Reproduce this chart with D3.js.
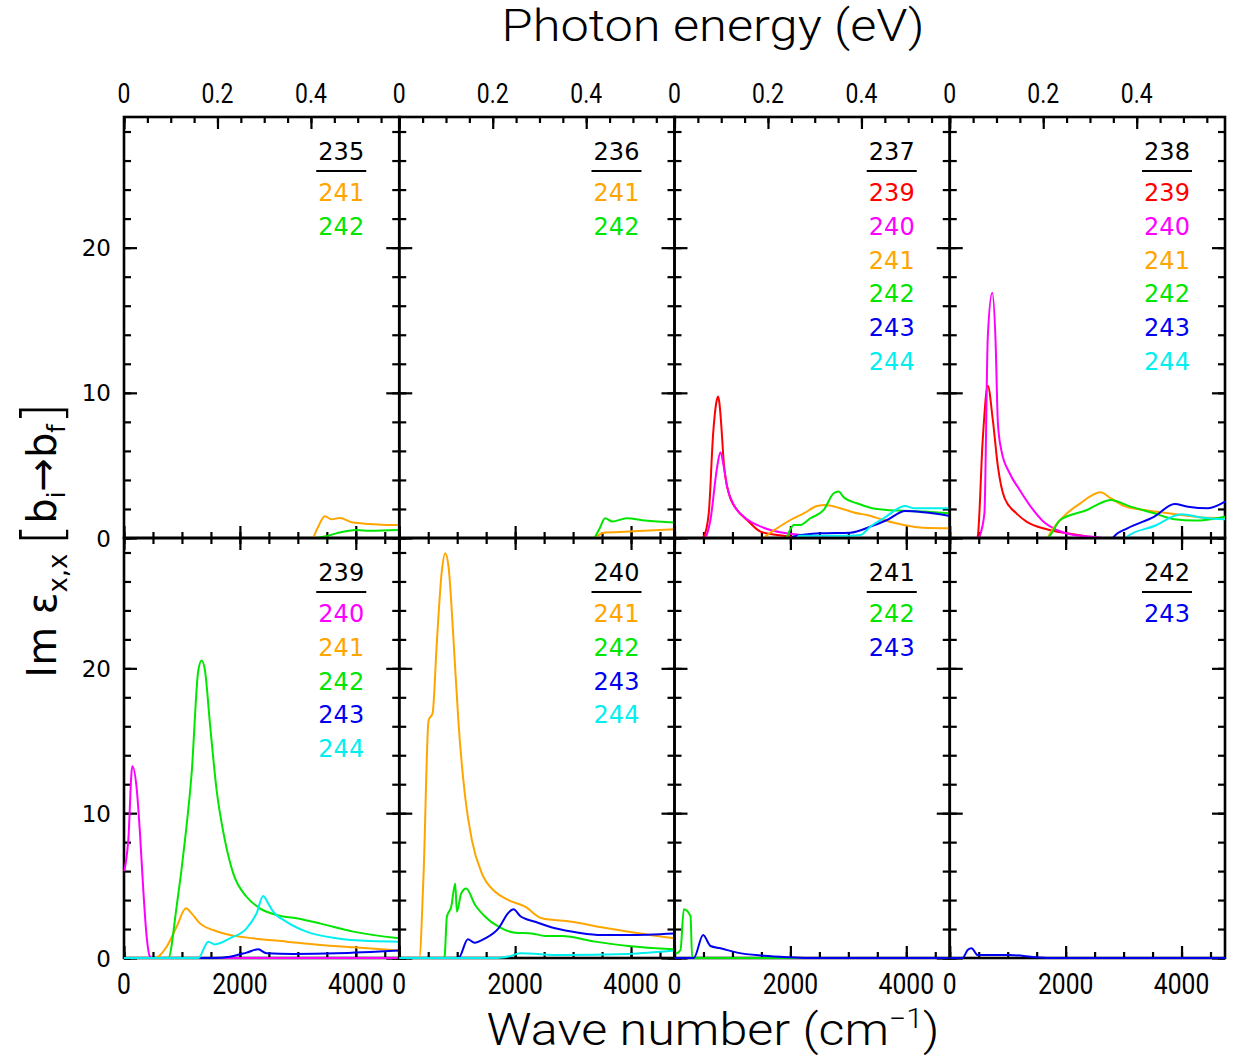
<!DOCTYPE html>
<html><head><meta charset="utf-8">
<script src="https://cdn.jsdelivr.net/npm/d3@7"></script>
<style>body{margin:0;background:#fff} svg{display:block}</style>
</head><body>
<svg id="c" width="1233" height="1057"></svg>
<script>
// ---------- DATA ----------
const initialBands = [235, 236, 237, 238, 239, 240, 241, 242];
const finalBands = [[241,242],[241,242],[239,240,241,242,243,244],[239,240,241,242,243,244],[240,241,242,243,244],[241,242,243,244],[242,243],[243]];
const wnTickLabels = [0, 2000, 4000];
const evTickLabels = [0, 0.2, 0.4];
const yTickLabels = [0, 10, 20];

// [wave number (cm^-1), Im eps]
const s235_241 = [[0,0],[3250,0],[3330,0.6],[3466,1.5],[3580,1.29],[3724,1.38],[3950,1.06],[4241,0.97],[4530,0.9],[4750,0.9]];
const s235_242 = [[0,0],[3300,0],[3466,0.1],[3667,0.32],[4011,0.55],[4241,0.5],[4750,0.55]];
const s236_241 = [[0,0],[3350,0],[3523,0.37],[3954,0.44],[4750,0.6]];
const s236_242 = [[0,0],[3350,0],[3450,0.6],[3552,1.36],[3678,1.13],[3925,1.36],[4241,1.2],[4750,1.06]];
const s237_239 = [[0,0],[480,0],[505,0.09],[591,1.7],[667,7.2],[720,9.3],[753,9.75],[775,9.3],[805,7.9],[851,5.15],[937,3.08],[1081,1.93],[1253,1.24],[1483,0.44],[1770,0.2],[2000,0.1],[2300,0],[4750,0]];
const s237_240 = [[0,0],[520,0],[534,0.05],[620,1.24],[736,4.9],[793,5.9],[851,4.9],[908,3.54],[1023,2.28],[1195,1.47],[1425,0.9],[1655,0.55],[1943,0.32],[2230,0.2],[2500,0.1],[2800,0],[4750,0]];
const s237_241 = [[0,0],[1540,0],[1569,0.1],[1770,0.67],[2000,1.24],[2230,1.7],[2460,2.2],[2603,2.28],[2862,2.05],[3149,1.7],[3322,1.59],[3609,1.24],[3954,0.9],[4299,0.71],[4750,0.67]];
const s237_242 = [[0,0],[1930,0],[1943,0.1],[2000,0.6],[2057,0.9],[2172,0.9],[2345,1.36],[2575,1.93],[2747,3.08],[2833,3.2],[2920,2.8],[3149,2.39],[3379,2.09],[3667,1.93],[3954,1.88],[4299,1.82],[4750,1.7]];
const s237_243 = [[0,0],[2000,0],[2057,0.1],[2517,0.32],[3034,0.37],[3379,0.78],[3667,1.24],[3983,1.86],[4299,1.77],[4750,1.52]];
const s237_244 = [[0,0],[2100,0],[2150,0.15],[3000,0.15],[3207,0.2],[3379,0.78],[3609,1.36],[3983,2.2],[4126,2.05],[4750,2.05]];
const s238_239 = [[0,0],[470,0],[483,0.1],[569,6.76],[657,10.48],[743,8.14],[831,4.92],[947,2.74],[1150,1.7],[1324,1.13],[1672,0.6],[2021,0.32],[2370,0.1],[2600,0],[4750,0]];
const s238_240 = [[0,0],[500,0],[512,0.1],[598,1.7],[657,13.9],[733,16.9],[790,13.65],[831,7.9],[889,6.07],[1034,4.46],[1207,3.31],[1440,1.93],[1614,1.13],[1847,0.55],[2138,0.2],[2430,0.1],[2700,0],[4750,0]];
const s238_241 = [[0,0],[1690,0],[1702,0.1],[1962,1.47],[2253,2.39],[2602,3.15],[2776,2.74],[3009,2.2],[3355,1.93],[3647,1.77],[3995,1.59],[4343,1.42],[4750,1.38]];
const s238_242 = [[0,0],[1672,0],[1905,1.24],[2369,1.93],[2659,2.5],[2776,2.62],[3124,2.16],[3531,1.7],[3879,1.29],[4227,1.2],[4750,1.47]];
const s238_243 = [[0,0],[2820,0],[2834,0.1],[3066,0.67],[3531,1.47],[3879,2.34],[4110,2.16],[4458,2.05],[4750,2.5]];
const s238_244 = [[0,0],[3050,0],[3066,0.1],[3531,0.83],[3995,1.63],[4343,1.42],[4750,1.29]];
const s239_240 = [[5,6.0],[74,8.14],[143,13.24],[219,11.7],[276,8.6],[333,4.69],[391,1.47],[448,0.09],[500,0],[4750,0]];
const s239_241 = [[0,0],[534,0],[736,0.78],[908,2.16],[1069,3.43],[1167,3.08],[1310,2.39],[1540,1.93],[1828,1.59],[2230,1.36],[2805,1.13],[3379,0.9],[3954,0.74],[4750,0.51]];
const s239_242 = [[0,0],[764,0],[908,3.54],[1052,8.14],[1167,12.74],[1282,19.86],[1339,20.55],[1397,19.86],[1483,16.2],[1598,11.6],[1741,8.14],[1885,5.84],[2115,4.23],[2345,3.43],[2632,2.97],[2977,2.74],[3379,2.39],[3954,1.82],[4750,1.36]];
const s239_243 = [[0,0],[1540,0],[1828,0.09],[2115,0.37],[2316,0.6],[2460,0.32],[2920,0.28],[3667,0.32],[4750,0.51]];
const s239_244 = [[0,0],[1282,0],[1454,1.13],[1569,0.94],[1828,1.36],[2115,2.05],[2287,3.08],[2402,4.28],[2488,3.77],[2575,3.2],[2805,2.5],[3149,1.82],[3667,1.36],[4241,1.17],[4750,1.13]];
const s240_241 = [[0,0],[345,0],[420,5.84],[506,16.4],[575,16.9],[650,21.9],[736,26.76],[793,27.95],[851,27],[937,21.93],[1023,16.2],[1138,11.1],[1253,8.14],[1425,5.84],[1655,4.57],[1885,4.0],[2172,3.54],[2460,2.74],[2977,2.5],[3494,2.12],[4069,1.75],[4750,1.36]];
const s240_242 = [[0,0],[770,0],[782,0.09],[822,2.85],[897,3.54],[966,5.15],[994,3.2],[1069,4.46],[1155,4.8],[1310,3.66],[1483,2.85],[1713,2.16],[2000,1.75],[2287,1.7],[2517,1.52],[2805,1.52],[3379,1.13],[3954,0.83],[4750,0.6]];
const s240_243 = [[0,0],[1023,0],[1184,1.29],[1299,1.06],[1483,1.36],[1713,2.05],[1885,3.13],[1971,3.36],[2086,2.9],[2345,2.5],[2690,2.05],[3092,1.75],[3494,1.59],[3954,1.59],[4750,1.7]];
const s240_244 = [[0,0],[1700,0],[1885,0.1],[2086,0.32],[2805,0.2],[3954,0.28],[4750,0.51]];
const s241_242 = [[20,0.3],[34,0.32],[103,0.55],[161,3.36],[276,2.9],[305,0],[4750,0]];
const s241_243 = [[0,0],[333,0],[494,1.59],[621,0.83],[793,0.67],[1081,0.37],[1540,0.16],[2000,0.05],[2300,0],[4750,0]];
const s242_243 = [[0,0],[220,0],[309,0.55],[377,0.67],[483,0.2],[1034,0.2],[1500,0.05],[1800,0],[4750,0]];

const seriesTable = {
  235: {241: s235_241, 242: s235_242},
  236: {241: s236_241, 242: s236_242},
  237: {239: s237_239, 240: s237_240, 241: s237_241, 242: s237_242, 243: s237_243, 244: s237_244},
  238: {239: s238_239, 240: s238_240, 241: s238_241, 242: s238_242, 243: s238_243, 244: s238_244},
  239: {240: s239_240, 241: s239_241, 242: s239_242, 243: s239_243, 244: s239_244},
  240: {241: s240_241, 242: s240_242, 243: s240_243, 244: s240_244},
  241: {242: s241_242, 243: s241_243},
  242: {243: s242_243}
};

// ---------- STYLE / LAYOUT ----------
const bandColor = {239:"#ff0000", 240:"#ff00ff", 241:"#ffa500", 242:"#00e600", 243:"#0000f0", 244:"#00f0f0"};
const L = 124, R = 1225, T = 117, M = 538, B = 958;
const pw = (R - L) / 4;
const rows = [[T, M], [M, B]];
const wnMax = 4750, yMax = 29, cmPerEV = 8065.54;
const numFont = "Roboto, 'Liberation Sans', sans-serif";
const geoFont = "'DejaVu Sans', Lato, sans-serif";

const svg = d3.select("#c");

function tickAxis(g, axisFn, scale, values, size) {
  g.call(axisFn(scale).tickValues(values).tickSize(size).tickSizeOuter(0).tickFormat(""));
  g.select(".domain").remove();
  g.selectAll(".tick line").attr("stroke", "#000").attr("stroke-width", 2.2);
}
function narrowText(g, x, y, txt, size, anchor, sx) {
  return g.append("text").attr("transform", `translate(${x},${y}) scale(${sx},1)`)
    .attr("text-anchor", anchor).attr("font-family", numFont).attr("font-size", size)
    .attr("fill", "#000").text(txt);
}

const line = d3.line().curve(d3.curveMonotoneX);

initialBands.forEach((band, i) => {
  const col = i % 4, row = Math.floor(i / 4);
  const x0 = L + col * pw, x1 = x0 + pw;
  const [yt, yb] = rows[row];
  const x = d3.scaleLinear().domain([0, wnMax]).range([x0, x1]);
  const y = d3.scaleLinear().domain([0, yMax]).range([yb, yt]);
  const g = svg.append("g");

  // frame
  g.append("rect").attr("x", x0).attr("y", yt).attr("width", pw).attr("height", yb - yt)
    .attr("fill", "none").attr("stroke", "#000").attr("stroke-width", 2.6);

  // ticks
  const wnMinor = d3.range(0, wnMax + 1, 500), wnMajor = [0, 2000, 4000];
  const yMinor = d3.range(0, yMax, 2), yMajor = [0, 10, 20];
  tickAxis(g.append("g").attr("transform", `translate(0,${yb})`), d3.axisTop, x, wnMinor, 6);
  tickAxis(g.append("g").attr("transform", `translate(0,${yb})`), d3.axisTop, x, wnMajor, 12);
  tickAxis(g.append("g").attr("transform", `translate(${x0},0)`), d3.axisRight, y, yMinor, 7);
  tickAxis(g.append("g").attr("transform", `translate(${x0},0)`), d3.axisRight, y, yMajor, 13);
  tickAxis(g.append("g").attr("transform", `translate(${x1},0)`), d3.axisLeft, y, yMinor, 7);
  tickAxis(g.append("g").attr("transform", `translate(${x1},0)`), d3.axisLeft, y, yMajor, 13);
  if (row === 0) {
    const ev = d3.scaleLinear().domain([0, wnMax / cmPerEV]).range([x0, x1]);
    tickAxis(g.append("g").attr("transform", `translate(0,${yt})`), d3.axisBottom, ev, d3.range(0, 0.5901, 0.05), 6);
    tickAxis(g.append("g").attr("transform", `translate(0,${yt})`), d3.axisBottom, ev, [0, 0.2, 0.4], 12);
    evTickLabels.forEach(v => narrowText(svg, ev(v), 103, v === 0 ? "0" : v.toFixed(1), 27, "middle", 0.85));
  } else {
    tickAxis(g.append("g").attr("transform", `translate(0,${yt})`), d3.axisBottom, x, wnMinor, 6);
    tickAxis(g.append("g").attr("transform", `translate(0,${yt})`), d3.axisBottom, x, wnMajor, 12);
    wnTickLabels.forEach(v => narrowText(svg, x(v), 994, String(v), 29, "middle", 0.85));
  }
  if (col === 0) {
    yTickLabels.forEach(v => svg.append("text").attr("x", 111).attr("y", y(v) + 8.5)
      .attr("text-anchor", "end").attr("font-family", geoFont).attr("font-size", 23).text(String(v)));
  }

  // series
  const finals = finalBands[i];
  finals.forEach(fb => {
    const data = seriesTable[band][fb];
    g.append("path").datum(data)
      .attr("d", line.x(d => x(d[0])).y(d => y(d[1])))
      .attr("fill", "none").attr("stroke", bandColor[fb]).attr("stroke-width", 2)
      .attr("stroke-linejoin", "round");
  });

  // legend
  const lx = x1 - 58;
  g.append("text").attr("x", lx).attr("y", yt + 43).attr("text-anchor", "middle")
    .attr("font-family", geoFont).attr("font-size", 24).attr("fill", "#000").text(band);
  g.append("line").attr("x1", lx - 25).attr("x2", lx + 25).attr("y1", yt + 54).attr("y2", yt + 54)
    .attr("stroke", "#000").attr("stroke-width", 2);
  finals.forEach((fb, k) => {
    g.append("text").attr("x", lx).attr("y", yt + 84 + 33.8 * k).attr("text-anchor", "middle")
      .attr("font-family", geoFont).attr("font-size", 24).attr("fill", bandColor[fb]).text(fb);
  });
});

// titles
function fitWidth(sel, target, cx) {
  const w = sel.node().getComputedTextLength();
  const s = target / w;
  sel.attr("transform", `translate(${cx},0) scale(${s},1) translate(${-cx},0)`);
}
const topTitle = svg.append("text").attr("x", 713).attr("y", 41).attr("text-anchor", "middle")
  .attr("font-family", numFont).attr("font-weight", 300).attr("font-size", 45).text("Photon energy (eV)");
fitWidth(topTitle, 423, 713);

const botTitle = svg.append("text").attr("x", 713).attr("y", 1045).attr("text-anchor", "middle")
  .attr("font-family", numFont).attr("font-weight", 300).attr("font-size", 45);
botTitle.append("tspan").text("Wave number (cm");
botTitle.append("tspan").attr("font-size", 27).attr("dy", -17).text("\u22121");
botTitle.append("tspan").attr("dy", 17).text(")");
fitWidth(botTitle, 453, 713);

const yTitle = svg.append("text").attr("transform", "translate(56,540) rotate(-90)")
  .attr("text-anchor", "middle").attr("font-family", geoFont).attr("font-size", 40);
yTitle.append("tspan").text("Im \u03b5");
yTitle.append("tspan").attr("font-size", 26).attr("dy", 11).text("x,x");
yTitle.append("tspan").attr("font-size", 56).attr("dy", -6).attr("dx", 8).attr("font-weight", 200).text("[");
yTitle.append("tspan").attr("dy", -5).text("b");
yTitle.append("tspan").attr("font-size", 24).attr("dy", 9).text("i");
yTitle.append("tspan").attr("dy", -9).text("\u2192b");
yTitle.append("tspan").attr("font-size", 24).attr("dy", 9).text("f");
yTitle.append("tspan").attr("font-size", 56).attr("dy", -4).attr("font-weight", 200).text("]");
</script>
</body></html>
